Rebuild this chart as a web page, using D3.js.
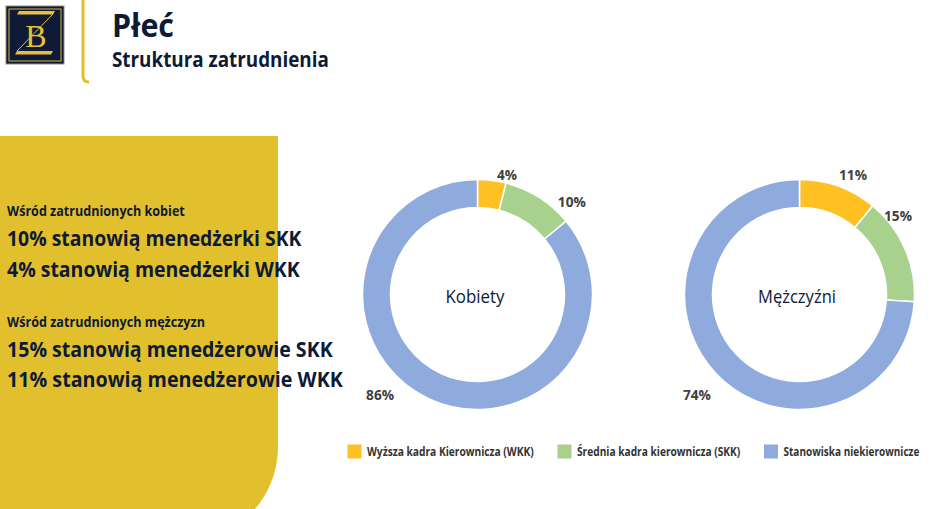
<!DOCTYPE html>
<html>
<head>
<meta charset="utf-8">
<script src="https://cdn.jsdelivr.net/npm/d3@7/dist/d3.min.js"></script>
<style>
  html, body { margin: 0; padding: 0; background: #fff; }
  svg { display: block; }
  text { font-family: "Open Sans", Lato, sans-serif; }
</style>
</head>
<body>
<svg id="chart" width="948" height="509"></svg>
<script>
// ---- data ----
const categories = ["Wyższa kadra Kierownicza (WKK)", "Średnia kadra kierownicza (SKK)", "Stanowiska niekierownicze"];
const groups = ["Kobiety", "Mężczyźni"];
const kobietyValues = [4, 10, 86];
const mezczyzniValues = [11, 15, 74];
const seriesValues = [kobietyValues, mezczyzniValues];
const title = "Płeć";
const subtitle = "Struktura zatrudnienia";
const sideLines = [
  { text: "Wśród zatrudnionych kobiet", big: false },
  { text: "10% stanowią menedżerki SKK", big: true },
  { text: "4% stanowią menedżerki WKK", big: true },
  { text: "Wśród zatrudnionych mężczyzn", big: false },
  { text: "15% stanowią menedżerowie SKK", big: true },
  { text: "11% stanowią menedżerowie WKK", big: true }
];

// ---- style / layout ----
const colors = ["#FFC024", "#A9D18E", "#8FAADC"];
const navy = "#0E1A36";
const gold = "#E2BF2D";
const svg = d3.select("#chart");

// place a text at (x,y) and squeeze it horizontally to a target width
function fitText(parent, x, y, width, anchor, attrs, str) {
  const t = parent.append("text").attr("x", 0).attr("y", 0).attr("text-anchor", anchor || "start");
  Object.entries(attrs).forEach(([k, v]) => t.attr(k, v));
  t.text(str);
  const nat = t.node().getComputedTextLength();
  const s = nat > 0 ? width / nat : 1;
  t.attr("transform", `translate(${x},${y}) scale(${s},1)`);
  return t;
}

// yellow side panel with rounded bottom-right corner
svg.append("path")
  .attr("d", "M0,136 H278 V447 A95,95 0 0 1 183,542 H0 Z")
  .attr("fill", gold);

// logo
const logo = svg.append("g");
logo.append("rect").attr("x", 6).attr("y", 6).attr("width", 58).attr("height", 58)
  .attr("fill", navy).attr("stroke", "#8a8a8a").attr("stroke-width", 1);
logo.append("rect").attr("x", 9).attr("y", 9).attr("width", 52).attr("height", 52)
  .attr("fill", "none").attr("stroke", "#D9B53A").attr("stroke-width", 1);
logo.append("path").attr("d", "M19,11 L55,11 L53,14.5 L17,14.5 Z").attr("fill", "#E6C03A");
logo.append("path").attr("d", "M15,54.5 L51,54.5 L53,51 L17,51 Z").attr("fill", "#E6C03A");
logo.append("path").attr("d", "M53,14 L17,51").attr("stroke", "#E6C03A").attr("stroke-width", 1);
logo.append("text").attr("x", 36).attr("y", 47).attr("text-anchor", "middle")
  .attr("font-size", 32)
  .attr("fill", "#E6C03A").style("font-family", "'Liberation Serif', 'DejaVu Serif', serif").text("B");

// vertical gold separator
svg.append("path").attr("d", "M83,0 V76 Q83,82 89,82")
  .attr("fill", "none").attr("stroke", gold).attr("stroke-width", 3);

// titles
fitText(svg, 112, 37, 62, "start", { "font-size": 32, "font-weight": 700, fill: navy }, title);
fitText(svg, 112, 67, 217, "start", { "font-size": 22, "font-weight": 700, fill: navy }, subtitle);

// side text
const sideY = [216, 245.5, 276.5, 326.5, 356.5, 387];
const sideW = [178, 294.5, 293, 198, 326, 336];
sideLines.forEach((d, i) => {
  fitText(svg, 7, sideY[i], sideW[i], "start",
    { "font-size": d.big ? 21.5 : 14.5, "font-weight": 700, fill: navy }, d.text);
});

// donuts
const xCenter = d3.scalePoint().domain(groups).range([477.5, 799.5]);
const cy = 294.5;
const outerR = 115, innerR = 87;
const pie = d3.pie().sort(null).value(d => d);
const arc = d3.arc().innerRadius(innerR).outerRadius(outerR);
// label placement tweaks (angle nudge in degrees, radius of label centre)
const labelLayout = [
  [{ d: 6.7, r: 123 }, { d: 13.2, r: 132 }, { d: 18.9, r: 140 }],
  [{ d: 4.3, r: 131 }, { d: -15.2, r: 126 }, { d: -1.2, r: 143.6 }]
];
const centerW = [59, 78];

groups.forEach((g, gi) => {
  const cx = xCenter(g);
  const gg = svg.append("g").attr("transform", `translate(${cx},${cy})`);
  const arcs = pie(seriesValues[gi]);
  gg.selectAll("path").data(arcs).join("path")
    .attr("d", arc)
    .attr("fill", (d, i) => colors[i])
    .attr("stroke", "#fff")
    .attr("stroke-width", 1.5);
  arcs.forEach((d, i) => {
    const L = labelLayout[gi][i];
    const a = (d.startAngle + d.endAngle) / 2 + L.d * Math.PI / 180;
    fitText(gg, L.r * Math.sin(a), -L.r * Math.cos(a) + 5.2, d.data >= 10 ? 28 : 20, "middle",
      { "font-size": 14.5, "font-weight": 700, fill: "#404040" }, d.data + "%");
  });
  fitText(gg, -2.5, 8, centerW[gi], "middle", { "font-size": 18.5, fill: navy }, g);
});

// legend
const legendW = [167, 163.5, 136];
let lx = 347.5;
categories.forEach((c, i) => {
  const lg = svg.append("g").attr("transform", `translate(${lx},444.5)`);
  lg.append("rect").attr("width", 14).attr("height", 14).attr("fill", colors[i]);
  fitText(lg, 19.5, 11.5, legendW[i], "start",
    { "font-size": 12, "font-weight": 700, fill: "#333" }, c);
  lx += 19.5 + legendW[i] + 23.5;
});
</script>
</body>
</html>
